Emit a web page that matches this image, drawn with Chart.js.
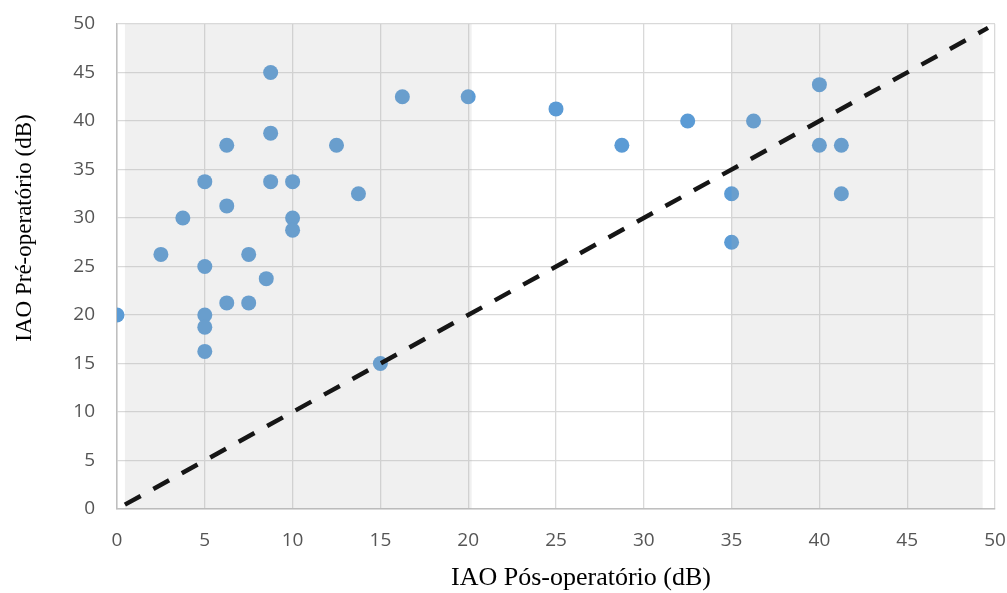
<!DOCTYPE html>
<html>
<head>
<meta charset="utf-8">
<script src="https://cdn.jsdelivr.net/npm/chart.js@4"></script>
<style>
html,body{margin:0;padding:0;background:#fff;}
#wrap{width:1007px;height:593px;position:relative;}
</style>
</head>
<body>
<div id="wrap"><canvas id="c" width="1007" height="593"></canvas></div>
<script>
// Data
const postOp = [8.75,16.25,20,25,8.75,6.25,12.5,5,8.75,10,13.75,6.25,3.75,10,10,2.5,7.5,5,8.5,6.25,7.5,0,5,5,5,15,28.75,32.5,36.25,40,40,41.25,35,41.25,35];
const preOp  = [45,42.5,42.5,41.25,38.75,37.5,37.5,33.75,33.75,33.75,32.5,31.25,30,30,28.75,26.25,26.25,25,23.75,21.25,21.25,20,20,18.75,16.25,15,37.5,40,40,43.75,37.5,37.5,32.5,32.5,27.5];
const refLineX = [0.45, 49.6];
const refLineY = [0.45, 49.6];
const shadeStart = [0.45, 35];
const shadeEnd   = [20.2, 49.3];
const xTicks = [0,5,10,15,20,25,30,35,40,45,50];
const yTicks = [0,5,10,15,20,25,30,35,40,45,50];
const xTitle = 'IAO Pós-operatório (dB)';
const yTitle = 'IAO Pré-operatório (dB)';

const shadePlugin = {
  id: 'shade',
  afterDatasetDraw(chart, args) {
    if (args.index !== 1) return;
    const {ctx, chartArea, scales} = chart;
    ctx.save();
    ctx.fillStyle = 'rgba(173,173,173,0.18)';
    for (let i = 0; i < shadeStart.length; i++) {
      const x0 = scales.x.getPixelForValue(shadeStart[i]);
      const x1 = scales.x.getPixelForValue(shadeEnd[i]);
      ctx.fillRect(x0, chartArea.top, x1 - x0, chartArea.bottom - chartArea.top);
    }
    ctx.restore();
  }
};

const titlePlugin = {
  id: 'titles',
  afterDraw(chart) {
    const {ctx, chartArea} = chart;
    ctx.save();
    ctx.fillStyle = '#000';
    ctx.textAlign = 'center';
    ctx.textBaseline = 'middle';
    ctx.font = '26px "Liberation Serif", "Times New Roman", serif';
    ctx.fillText(xTitle, chartArea.left + 464, 578);
    ctx.translate(25, 228);
    ctx.rotate(-Math.PI / 2);
    ctx.font = '23px "Liberation Serif", "Times New Roman", serif';
    ctx.fillText(yTitle, 0, 0);
    ctx.restore();
  }
};

function noPad(s) { s.paddingTop = 0; s.paddingBottom = 0; s.paddingLeft = 0; s.paddingRight = 0; }

new Chart(document.getElementById('c'), {
  type: 'scatter',
  data: {
    datasets: [
      {
        type: 'line',
        data: refLineX.map((x, i) => ({x: x, y: refLineY[i]})),
        borderColor: '#161616',
        borderWidth: 4.5,
        borderDash: [18, 14.5],
        borderCapStyle: 'butt',
        pointRadius: 0,
        fill: false
      },
      {
        data: postOp.map((x, i) => ({x: x, y: preOp[i]})),
        backgroundColor: '#5b9bd5',
        borderWidth: 0,
        pointRadius: 7.5,
        pointHoverRadius: 7.5
      }
    ]
  },
  options: {
    responsive: false,
    animation: false,
    events: [],
    layout: {padding: {top: 24, right: 12, left: 0, bottom: 0}},
    plugins: {legend: {display: false}, tooltip: {enabled: false}},
    scales: {
      x: {
        type: 'linear', min: 0, max: 50,
        afterBuildTicks(s) { s.ticks = xTicks.map(v => ({value: v})); },
        afterFit(s) { s.height = 84; noPad(s); },
        grid: {color: '#d9d9d9', lineWidth: 1.3, drawTicks: false},
        border: {color: '#bfbfbf', width: 1.5},
        ticks: {padding: 20, color: '#555555', font: {family: '"Open Sans", sans-serif', size: 19}}
      },
      y: {
        type: 'linear', min: 0, max: 50,
        afterBuildTicks(s) { s.ticks = yTicks.map(v => ({value: v})); },
        afterFit(s) { s.width = 117; noPad(s); },
        grid: {color: '#d9d9d9', lineWidth: 1.3, drawTicks: false},
        border: {color: '#bfbfbf', width: 1.5},
        ticks: {padding: 22, color: '#555555', font: {family: '"Open Sans", sans-serif', size: 19}}
      }
    }
  },
  plugins: [shadePlugin, titlePlugin]
});
</script>
</body>
</html>
